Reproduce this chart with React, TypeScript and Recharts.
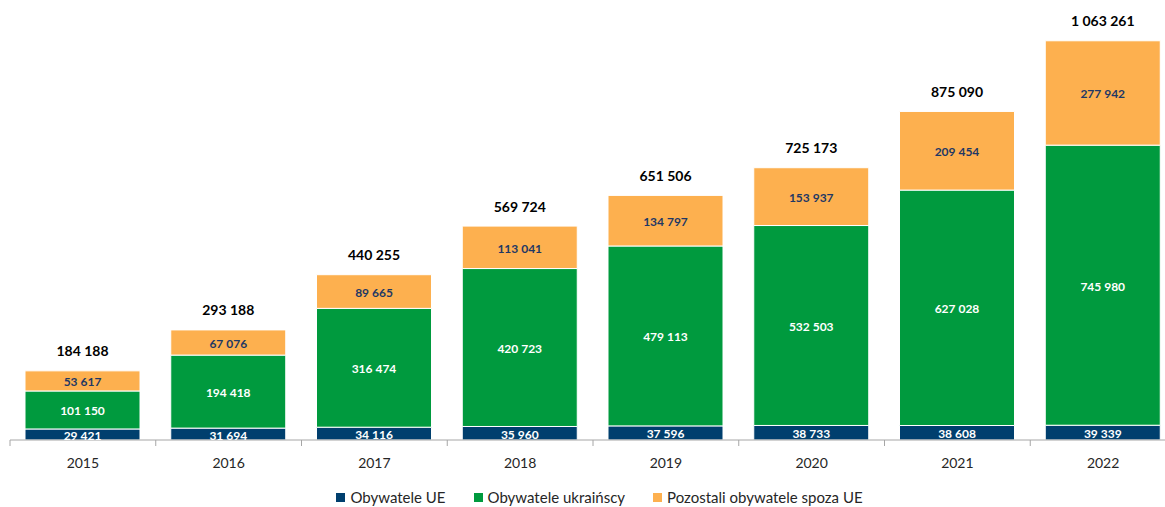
import React from 'react';
import { BarChart, Bar, XAxis, YAxis, Legend, LabelList } from 'recharts';

const years = ['2015', '2016', '2017', '2018', '2019', '2020', '2021', '2022'];
const euCitizens = [29421, 31694, 34116, 35960, 37596, 38733, 38608, 39339];
const ukrainianCitizens = [101150, 194418, 316474, 420723, 479113, 532503, 627028, 745980];
const otherNonEu = [53617, 67076, 89665, 113041, 134797, 153937, 209454, 277942];

const data = years.map((year, i) => ({
  year,
  eu: euCitizens[i],
  ua: ukrainianCitizens[i],
  other: otherNonEu[i],
  total: euCitizens[i] + ukrainianCitizens[i] + otherNonEu[i],
}));

const FONT = 'Lato, "Open Sans", sans-serif';
const CHART_W = 1180;
const MARGIN = { top: 27, right: 4, left: 10, bottom: 0 };
const BAND = (CHART_W - MARGIN.left - MARGIN.right) / years.length;

// numbers are written with a space as the thousands separator
const fmt = (v: number) => String(v).replace(/\B(?=(\d{3})+(?!\d))/g, ' ');

const YearTick = (props: any) => {
  const { x, y, payload, index } = props;
  return (
    <g>
      <line x1={x - BAND / 2} x2={x - BAND / 2} y1={y} y2={y + 6} stroke="#a6a6a6" />
      {index === years.length - 1 && (
        <line x1={x + BAND / 2} x2={x + BAND / 2} y1={y} y2={y + 6} stroke="#a6a6a6" />
      )}
      <text x={x} y={y + 22} textAnchor="middle" dominantBaseline="central" fill="#262626" fontSize={14} fontFamily={FONT}>
        {payload.value}
      </text>
    </g>
  );
};

const segLabel = (color: string) => (props: any) => {
  const { x, y, width, height, value } = props;
  return (
    <text x={x + width / 2} y={y + height / 2 + 1} textAnchor="middle" dominantBaseline="central" fill={color} fontSize={12} fontWeight={700} fontFamily={FONT}>
      {fmt(value)}
    </text>
  );
};

const totalLabel = (props: any) => {
  const { x, y, width, value } = props;
  return (
    <text x={x + width / 2} y={y - 20} textAnchor="middle" dominantBaseline="central" fill="#000" fontSize={14} fontWeight={700} fontFamily={FONT}>
      {fmt(value)}
    </text>
  );
};

const legendItems = [
  { label: 'Obywatele UE', color: '#003f6e' },
  { label: 'Obywatele ukraińscy', color: '#009a3e' },
  { label: 'Pozostali obywatele spoza UE', color: '#fdb04f' },
];

const renderLegend = () => (
  <div style={{ display: 'flex', justifyContent: 'center', gap: 28, marginTop: 13, paddingLeft: 34, fontFamily: FONT, fontSize: 15, color: '#262626' }}>
    {legendItems.map((it) => (
      <div key={it.label} style={{ display: 'flex', alignItems: 'center', gap: 5 }}>
        <span style={{ width: 9, height: 9, background: it.color, display: 'inline-block' }} />
        <span>{it.label}</span>
      </div>
    ))}
  </div>
);

export default function App() {
  return (
    <div style={{ position: 'absolute', left: 0, top: 0, width: 1165, height: 507, overflow: 'hidden', background: '#fff' }}>
      <BarChart width={CHART_W} height={507} data={data} margin={MARGIN} barSize={115}>
        <XAxis
          dataKey="year"
          axisLine={{ stroke: '#a6a6a6' }}
          tickLine={false}
          tickSize={0}
          tickMargin={0}
          tick={<YearTick />}
          height={37}
          interval={0}
        />
        <YAxis hide domain={[0, 1100000]} />
        <Legend verticalAlign="bottom" height={30} content={renderLegend} wrapperStyle={{ left: 0, width: 1165, bottom: 2 }} />
        <Bar dataKey="eu" stackId="a" fill="#003f6e" stroke="#fff" strokeWidth={1} isAnimationActive={false}>
          <LabelList dataKey="eu" content={segLabel('#ffffff')} />
        </Bar>
        <Bar dataKey="ua" stackId="a" fill="#009a3e" stroke="#fff" strokeWidth={1} isAnimationActive={false}>
          <LabelList dataKey="ua" content={segLabel('#ffffff')} />
        </Bar>
        <Bar dataKey="other" stackId="a" fill="#fdb04f" stroke="#fff" strokeWidth={1} isAnimationActive={false}>
          <LabelList dataKey="other" content={segLabel('#1f3864')} />
          <LabelList dataKey="total" content={totalLabel} />
        </Bar>
      </BarChart>
    </div>
  );
}
